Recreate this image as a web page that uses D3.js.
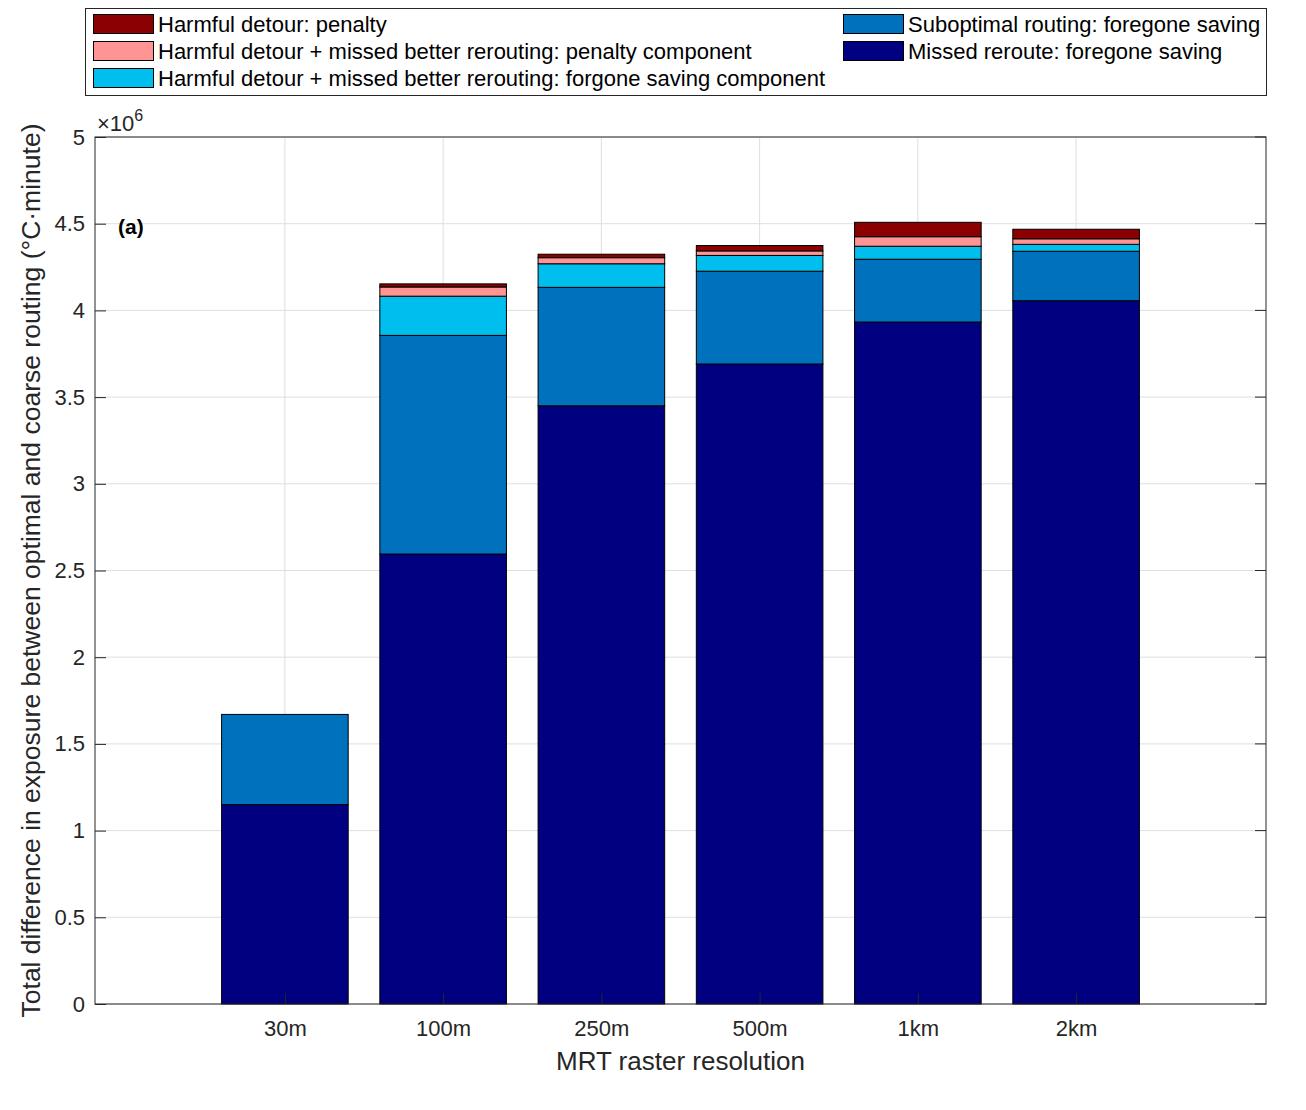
<!DOCTYPE html>
<html>
<head>
<meta charset="utf-8">
<script src="https://cdn.jsdelivr.net/npm/d3@7"></script>
<style>
  body { margin: 0; background: #fff; }
  svg { font-family: "Liberation Sans", Arial, sans-serif; }
</style>
</head>
<body>
<svg id="chart" width="1306" height="1110"></svg>
<script>
// categories along x
var resolutions = ["30m", "100m", "250m", "500m", "1km", "2km"];

// stack components, bottom to top (units of 1e6 °C·minute)
var missedReroute   = [1.15, 2.595, 3.450, 3.691, 3.933, 4.056];
var suboptimal      = [0.52, 1.261, 0.683, 0.535, 0.362, 0.285];
var detourForgone   = [0.00, 0.226, 0.136, 0.091, 0.075, 0.040];
var detourPenaltyC  = [0.00, 0.053, 0.035, 0.026, 0.055, 0.032];
var harmfulPenalty  = [0.00, 0.018, 0.020, 0.031, 0.083, 0.055];

var yTicks = [0, 0.5, 1, 1.5, 2, 2.5, 3, 3.5, 4, 4.5, 5];

var seriesNames = [
    "Missed reroute: foregone saving",
    "Suboptimal routing: foregone saving",
    "Harmful detour + missed better rerouting: forgone saving component",
    "Harmful detour + missed better rerouting: penalty component",
    "Harmful detour: penalty"
];
var seriesColors = ["#000080", "#0072bd", "#00bfef", "#ff9494", "#8b0000"];
var seriesValues = [missedReroute, suboptimal, detourForgone, detourPenaltyC, harmfulPenalty];

var svg = d3.select("#chart"),
    margin = { top: 137, right: 40, bottom: 106, left: 95 },
    width = 1306 - margin.left - margin.right,
    height = 1110 - margin.top - margin.bottom;

var x = d3.scaleLinear().domain([-0.2, 7.2]).range([0, width]),
    y = d3.scaleLinear().domain([0, 5]).range([height, 0]);

var barW = x(0.8) - x(0);

var g = svg.append("g")
    .attr("transform", "translate(" + margin.left + "," + margin.top + ")");

// grid
g.append("g").attr("class", "grid")
    .selectAll("line.h").data(yTicks).enter().append("line")
    .attr("x1", 0).attr("x2", width)
    .attr("y1", function(d) { return y(d); }).attr("y2", function(d) { return y(d); })
    .attr("stroke", "#dfdfdf").attr("stroke-width", 1);
g.select(".grid").selectAll("line.v").data(resolutions).enter().append("line")
    .attr("x1", function(d, i) { return x(i + 1); }).attr("x2", function(d, i) { return x(i + 1); })
    .attr("y1", 0).attr("y2", height)
    .attr("stroke", "#dfdfdf").attr("stroke-width", 1);

// stacked rows
var rows = resolutions.map(function(r, i) {
    var o = { cat: r, idx: i };
    seriesValues.forEach(function(s, k) { o["s" + k] = s[i]; });
    return o;
});
var stack = d3.stack().keys(seriesValues.map(function(s, k) { return "s" + k; }));
var layers = stack(rows);

g.selectAll(".layer").data(layers).enter().append("g")
    .attr("class", "layer")
    .attr("fill", function(d, k) { return seriesColors[k]; })
    .selectAll("rect")
    .data(function(d) { return d.filter(function(p) { return p[1] - p[0] > 0; }); })
    .enter().append("rect")
    .attr("x", function(p) { return x(p.data.idx + 1) - barW / 2; })
    .attr("width", barW)
    .attr("y", function(p) { return y(p[1]); })
    .attr("height", function(p) { return y(p[0]) - y(p[1]); })
    .attr("stroke", "#000").attr("stroke-width", 1);

// axes box
g.append("rect").attr("width", width).attr("height", height)
    .attr("fill", "none").attr("stroke", "#262626").attr("stroke-width", 1);

var tickLen = 11;
var yAxis = d3.axisLeft(y).tickValues(yTicks).tickSizeInner(-tickLen).tickSizeOuter(0).tickPadding(10)
    .tickFormat(function(d) { return d; });
var yg = g.append("g").call(yAxis);
yg.select(".domain").remove();
yg.selectAll("line").attr("stroke", "#262626");
yg.selectAll("text").attr("font-size", 22).attr("fill", "#262626")
    .attr("font-family", "Liberation Sans, Arial, sans-serif");

// mirrored right ticks
g.append("g").selectAll("line").data(yTicks).enter().append("line")
    .attr("x1", width).attr("x2", width - tickLen)
    .attr("y1", function(d) { return y(d); }).attr("y2", function(d) { return y(d); })
    .attr("stroke", "#262626");

var xAxis = d3.axisBottom(x).tickValues(d3.range(1, resolutions.length + 1))
    .tickSizeInner(-tickLen).tickSizeOuter(0).tickPadding(16)
    .tickFormat(function(d) { return resolutions[d - 1]; });
var xg = g.append("g").attr("transform", "translate(0," + height + ")").call(xAxis);
xg.select(".domain").remove();
xg.selectAll("line").attr("stroke", "#262626");
xg.selectAll("text").attr("font-size", 22).attr("fill", "#262626")
    .attr("font-family", "Liberation Sans, Arial, sans-serif");

// exponent label
var expo = g.append("text").attr("x", 2).attr("y", -6)
    .attr("font-size", 22).attr("fill", "#262626");
expo.append("tspan").text("\u00d710");
expo.append("tspan").attr("dy", -10).attr("font-size", 16).text("6");

// panel tag
g.append("text").attr("x", 23).attr("y", 97)
    .attr("font-size", 21).attr("font-weight", "bold").attr("fill", "#000").text("(a)");

// axis titles
g.append("text")
    .attr("x", width / 2).attr("y", height + 66)
    .attr("text-anchor", "middle").attr("font-size", 26).attr("fill", "#262626")
    .text("MRT raster resolution");
g.append("text")
    .attr("transform", "translate(-55," + (height / 2) + ") rotate(-90)")
    .attr("text-anchor", "middle").attr("font-size", 26.5).attr("fill", "#262626")
    .text("Total difference in exposure between optimal and coarse routing (\u00b0C\u00b7minute)");

// legend
var legendItems = [
    { k: 4, col: 0, row: 0 },
    { k: 3, col: 0, row: 1 },
    { k: 2, col: 0, row: 2 },
    { k: 1, col: 1, row: 0 },
    { k: 0, col: 1, row: 1 }
];
var leg = svg.append("g");
leg.append("rect").attr("x", 85.5).attr("y", 8.5).attr("width", 1181).attr("height", 87)
    .attr("fill", "#fff").attr("stroke", "#262626").attr("stroke-width", 1);
var colX = [93, 843];
var li = leg.selectAll(".li").data(legendItems).enter().append("g")
    .attr("transform", function(d) { return "translate(" + colX[d.col] + "," + (24 + d.row * 27) + ")"; });
li.append("rect").attr("x", 0.5).attr("y", -9.5).attr("width", 60).attr("height", 19)
    .attr("fill", function(d) { return seriesColors[d.k]; })
    .attr("stroke", "#000").attr("stroke-width", 1);
li.append("text").attr("x", 65).attr("y", 8)
    .attr("font-size", 22).attr("fill", "#000")
    .text(function(d) { return seriesNames[d.k]; });
</script>
</body>
</html>
